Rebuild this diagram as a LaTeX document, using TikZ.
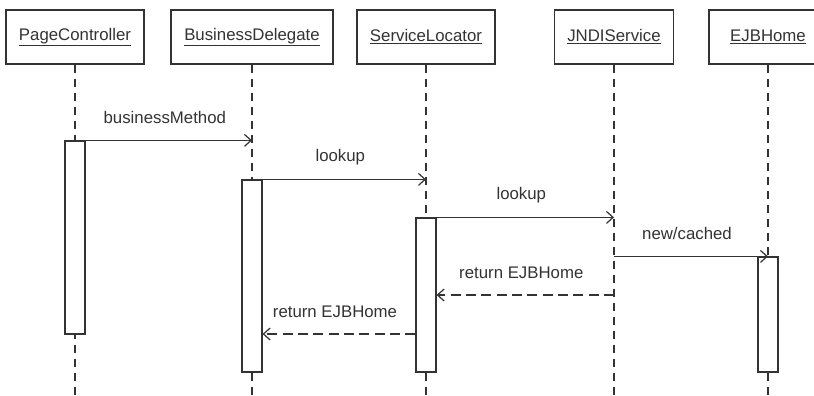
\documentclass[tikz,border=0pt]{standalone}
\usepackage{fontspec}
\setmainfont{Liberation Sans}
\usetikzlibrary{arrows.meta}
\definecolor{ln}{HTML}{333333}
\begin{document}
\begin{tikzpicture}[x=0.75pt,y=-0.75pt,
  every node/.style={font=\fontsize{12.6}{15}\selectfont, text=ln},
  obj/.style={draw=ln, line width=0.9pt, fill=white, minimum height=40.5pt, inner sep=0pt},
  life/.style={draw=ln, line width=1.3pt, dash pattern=on 6.5pt off 4pt},
  bar/.style={draw=ln, line width=0.9pt, fill=white, minimum width=15pt, inner sep=0pt},
  msg/.style={draw=ln, line width=0.9pt, -{Straight Barb[length=5pt,width=9pt,line width=0.9pt]}},
  ret/.style={msg, dash pattern=on 7.5pt off 4pt},
  lbl/.style={midway, yshift=17pt, xshift=-3pt}]
\useasboundingbox (0,0) rectangle (814,396);
% objects
\node[obj, minimum width=103.5pt] (pc) at (75,37) {\underline{PageController}};
\node[obj, minimum width=121.5pt] (bd) at (252,37) {\underline{BusinessDelegate}};
\node[obj, minimum width=103.5pt] (sl) at (426,37) {\underline{ServiceLocator}};
\node[obj, minimum width=89.25pt] (jn) at (614,37) {\underline{JNDIService}};
\node[obj, minimum width=88.5pt] (ej) at (768,37) {\underline{EJBHome}};
% lifeline ends
\coordinate (pce) at (75,396);
\coordinate (bde) at (252,396);
\coordinate (sle) at (426,396);
\coordinate (jne) at (614,396);
\coordinate (eje) at (768,396);
\draw[life] (pc.south) -- (pce);
\draw[life] (bd.south) -- (bde);
\draw[life] (sl.south) -- (sle);
\draw[life] (jn.south) -- (jne);
\draw[life] (ej.south) -- (eje);
% activation bars
\node[bar, minimum height=144.75pt] (pcb) at (75,237.5) {};
\node[bar, minimum height=144pt] (bdb) at (252,276) {};
\node[bar, minimum height=115.5pt] (slb) at (426,295) {};
\node[bar, minimum height=86.25pt] (ejb) at (768,314.5) {};
% helper coordinates for returns
\coordinate (r1) at (0,295);
\coordinate (r2) at (0,334);
% messages
\draw[msg] (pcb.north east) -- (pcb.north east -| bd.south) node[lbl] {businessMethod};
\draw[msg] (bdb.north east) -- (bdb.north east -| sl.south) node[lbl] {lookup};
\draw[msg] (slb.north east) -- (slb.north east -| jn.south) node[lbl] {lookup};
\draw[msg] (ejb.north -| jn.south) -- (ejb.north) node[lbl] {new/cached};
\draw[ret] (jn.south |- r1) -- (slb.east |- r1) node[lbl] {return EJBHome};
\draw[ret] (slb.west |- r2) -- (bdb.east |- r2) node[lbl] {return EJBHome};
\end{tikzpicture}
\end{document}
